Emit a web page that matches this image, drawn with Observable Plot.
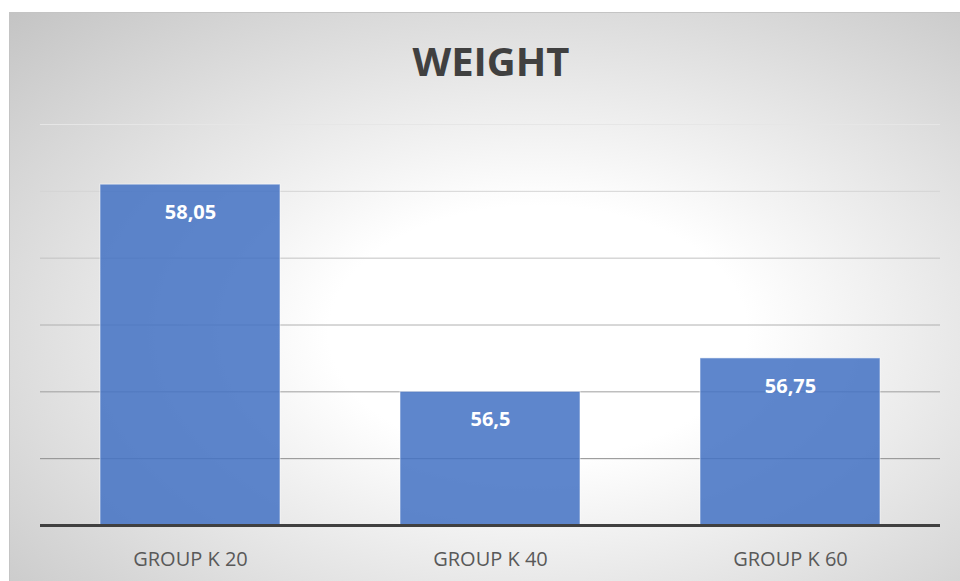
<!DOCTYPE html>
<html>
<head>
<meta charset="utf-8">
<script src="https://cdn.jsdelivr.net/npm/d3@7"></script>
<script src="https://cdn.jsdelivr.net/npm/@observablehq/plot@0.6"></script>
<style>
  html, body { margin: 0; padding: 0; background: #fff; }
  body { width: 960px; height: 581px; position: relative; overflow: hidden; font-family: "Open Sans", sans-serif; }
  #panel {
    position: absolute; left: 9px; top: 12px; width: 960px; height: 580px;
    border-left: 1px solid #c4c4c4; border-top: 1px solid #c4c4c4;
    background: radial-gradient(ellipse farthest-corner at 55% 55%, #ffffff 0%, #ffffff 28%, #c4c4c4 100%);
  }
  #title {
    position: absolute; left: 0; width: 982px; top: 41px; text-align: center;
    font: 700 40px/40px "Open Sans", sans-serif; color: #404040;
  }
  #chart { position: absolute; left: 0; top: 0; }
</style>
</head>
<body>
<div id="panel"></div>
<div id="title">WEIGHT</div>
<div id="chart"></div>
<script>
const groups = ["GROUP K 20", "GROUP K 40", "GROUP K 60"];
const weights = [58.05, 56.5, 56.75];
const valueLabels = ["58,05", "56,5", "56,75"];
const yDomain = [55.5, 58.5];
const gridValues = [56, 56.5, 57, 57.5, 58, 58.5];

const data = groups.map((g, i) => ({group: g, weight: weights[i], label: valueLabels[i]}));
const gridColor = d3.scaleLinear().domain([56, 58.5]).range(["#8c8c8c", "#e6e6e6"]);

const chart = Plot.plot({
  width: 960,
  height: 581,
  marginTop: 124,
  marginBottom: 56,
  marginLeft: 40,
  marginRight: 20,
  style: {background: "transparent", fontFamily: "Open Sans, sans-serif"},
  x: {domain: groups, paddingInner: 0.4, paddingOuter: 0.2, label: null, axis: null},
  y: {domain: yDomain, axis: null},
  color: {type: "identity"},
  marks: [
    Plot.ruleY(gridValues, {y: d => d, stroke: d => gridColor(d), strokeWidth: 1}),
    Plot.barY(data, {x: "group", y1: () => yDomain[0], y2: "weight", fill: "#4472C4", fillOpacity: 0.86, stroke: "#ffffff", strokeOpacity: 0.55, strokeWidth: 1}),
    Plot.text(data, {x: "group", y: "weight", text: "label", dy: 28, fill: "white", fontSize: 20, fontWeight: 700}),
    Plot.ruleY([yDomain[0]], {stroke: "#404040", strokeWidth: 3}),
    Plot.axisX({tickSize: 0, tickPadding: 26, fontSize: 20, color: "#595959", label: null})
  ]
});
document.getElementById("chart").appendChild(chart);
</script>
</body>
</html>
